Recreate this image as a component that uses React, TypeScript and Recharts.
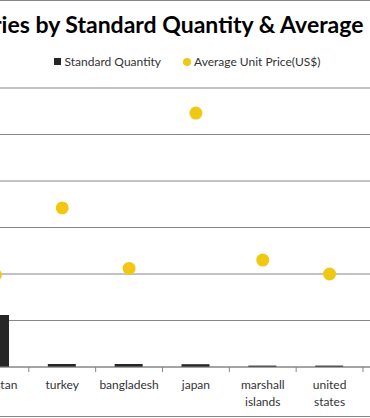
import { ComposedChart, Bar, Line, XAxis, YAxis, CartesianGrid, Legend } from 'recharts';

const countries = ['pakistan', 'turkey', 'bangladesh', 'japan', 'marshall islands', 'united states'];
const standardQuantity = [224000, 13000, 13000, 12000, 6000, 6000];
const avgUnitPrice = [9.9, 17.1, 10.6, 27.3, 11.5, 10.0];
const quantityTicks = [0, 200000, 400000, 600000, 800000, 1000000, 1200000];
const priceTicks = [0, 5, 10, 15, 20, 25, 30];

const data = countries.map((name, i) => ({
  name,
  qty: standardQuantity[i],
  price: avgUnitPrice[i],
}));

const BAR = '#262626';
const DOT = '#f0c814';
const GRID = '#868686';
const FONT = 'Lato, "Open Sans", sans-serif';
const BAND = 66.8;

function CategoryTick({ x, y, payload }: { x?: number; y?: number; payload?: { value: string } }) {
  const words = (payload?.value ?? '').split(' ');
  const lines = words.length > 1 ? [words.slice(0, -1).join(' '), words[words.length - 1]] : words;
  return (
    <g>
      <line x1={(x ?? 0) + BAND / 2} x2={(x ?? 0) + BAND / 2} y1={y! - 8} y2={y! - 3} stroke={GRID} />
      {lines.map((l, i) => (
        <text key={i} x={x} y={(y ?? 0) + 14 + i * 17} textAnchor="middle" fontSize={12} fill="#333" fontFamily={FONT}>
          {l}
        </text>
      ))}
    </g>
  );
}

function ChartLegend() {
  return (
    <div style={{ height: 36, boxSizing: 'border-box', paddingTop: 2, display: 'flex', justifyContent: 'center', alignItems: 'flex-start', fontFamily: FONT, fontSize: 12, color: '#333' }}>
      <span style={{ display: 'flex', alignItems: 'center', marginRight: 22 }}>
        <span style={{ width: 7, height: 7, background: BAR, marginRight: 4, display: 'inline-block' }} />
        Standard Quantity
      </span>
      <span style={{ display: 'flex', alignItems: 'center' }}>
        <span style={{ width: 8, height: 8, borderRadius: 4, background: DOT, marginRight: 3, display: 'inline-block' }} />
        Average Unit Price(US$)
      </span>
    </div>
  );
}

export default function App() {
  return (
    <div style={{ position: 'fixed', left: 0, top: 0, width: 370, height: 418, overflow: 'hidden', background: '#fff' }}>
      <div style={{ position: 'absolute', left: -100, top: 0, width: 574, height: 417, boxSizing: 'border-box', borderTop: `1px solid ${GRID}`, borderBottom: `1px solid ${GRID}` }} />
      <div style={{ position: 'absolute', left: -221, top: 10, width: 800, textAlign: 'center', whiteSpace: 'nowrap', fontFamily: FONT, fontWeight: 700, fontSize: 23, color: '#000' }}>
        Top Countries by Standard Quantity &amp; Average Unit Price
      </div>
      <div style={{ position: 'absolute', left: -98, top: 0 }}>
        <ComposedChart width={570} height={418} data={data} margin={{ top: 52, right: 0, bottom: 0, left: 0 }}>
          <CartesianGrid horizontal vertical={false} stroke={GRID} yAxisId="left" />
          <Legend verticalAlign="top" align="center" content={() => <ChartLegend />} />
          <XAxis
            dataKey="name"
            padding={{ left: 0, right: 67 }}
            interval={0}
            tickLine={false}
            axisLine={{ stroke: GRID }}
            tick={<CategoryTick />}
            height={51}
          />
          <YAxis yAxisId="left" orientation="left" width={60} domain={[0, 1200000]} ticks={quantityTicks} axisLine={false} tickLine={false} tick={{ fontSize: 11 }} />
          <YAxis yAxisId="right" orientation="right" width={42} domain={[0, 30]} ticks={priceTicks} axisLine={false} tickLine={false} tick={{ fontSize: 11 }} />
          <Bar yAxisId="left" dataKey="qty" fill={BAR} barSize={28} isAnimationActive={false} />
          <Line
            yAxisId="right"
            dataKey="price"
            stroke="none"
            dot={{ r: 6.5, fill: DOT, stroke: 'none' }}
            activeDot={false}
            isAnimationActive={false}
          />
        </ComposedChart>
      </div>
    </div>
  );
}
